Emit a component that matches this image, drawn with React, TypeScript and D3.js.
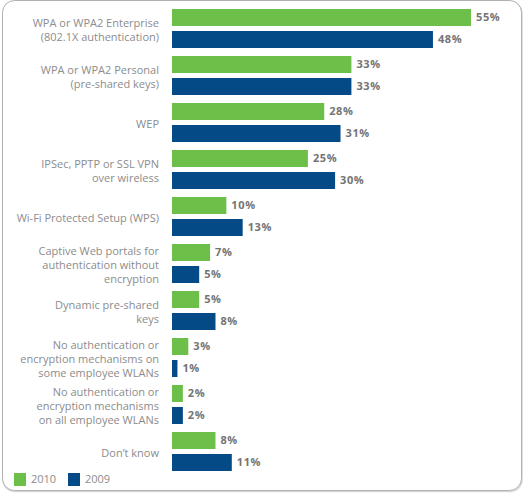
import React, { useEffect, useRef } from "react";
import * as d3 from "d3";

const categories = [
  ["WPA or WPA2 Enterprise", "(802.1X authentication)"],
  ["WPA or WPA2 Personal", "(pre-shared keys)"],
  ["WEP"],
  ["IPSec, PPTP or SSL VPN", "over wireless"],
  ["Wi-Fi Protected Setup (WPS)"],
  ["Captive Web portals for", "authentication without", "encryption"],
  ["Dynamic pre-shared", "keys"],
  ["No authentication or", "encryption mechanisms on", "some employee WLANs"],
  ["No authentication or", "encryption mechanisms", "on all employee WLANs"],
  ["Don\u2019t know"],
];
const values2010 = [55, 33, 28, 25, 10, 7, 5, 3, 2, 8];
const values2009 = [48, 33, 31, 30, 13, 5, 8, 1, 2, 11];
const seriesNames = ["2010", "2009"];
const seriesColors = ["#6cc04a", "#044a87"];

const App = () => {
  const ref = useRef<SVGSVGElement>(null);

  useEffect(() => {
    const svg = d3.select(ref.current);
    svg.selectAll("*").remove();

    const font = "'Open Sans', sans-serif";

    // rounded frame with a faint shadow at the bottom
    svg
      .append("rect")
      .attr("x", 3)
      .attr("y", 1.5)
      .attr("width", 519)
      .attr("height", 490)
      .attr("rx", 12)
      .style("fill", "none")
      .style("stroke", "#d8d8d8")
      .style("stroke-width", 1.5);
    svg
      .append("rect")
      .attr("x", 2.5)
      .attr("y", 0.5)
      .attr("width", 519)
      .attr("height", 490)
      .attr("rx", 12)
      .style("fill", "white")
      .style("stroke", "#b0b0b0")
      .style("stroke-width", 1);

    const x = d3.scaleLinear().domain([0, 55]).range([172, 471]);
    const y = d3
      .scaleBand<number>()
      .domain(d3.range(categories.length))
      .range([9, 9 + 47 * categories.length]);
    const ySub = d3
      .scaleBand<string>()
      .domain(seriesNames)
      .range([0, 39])
      .paddingInner(5 / 22);

    const groups = svg
      .append("g")
      .selectAll("g")
      .data(categories)
      .join("g")
      .attr("transform", (d, i) => `translate(0,${y(i)})`);

    groups.each(function (lines, i) {
      const g = d3.select(this);
      const vals = [values2010[i], values2009[i]];
      seriesNames.forEach((s, k) => {
        g.append("rect")
          .attr("x", x(0))
          .attr("y", ySub(s)!)
          .attr("width", x(vals[k]) - x(0))
          .attr("height", ySub.bandwidth())
          .style("fill", seriesColors[k]);
        g.append("text")
          .attr("x", x(vals[k]) + 5)
          .attr("y", ySub(s)! + ySub.bandwidth() / 2)
          .attr("dy", "0.35em")
          .style("font-family", font)
          .style("font-size", "11px")
          .style("font-weight", "bold")
          .style("letter-spacing", "0.6px")
          .style("fill", "#747474")
          .text(`${vals[k]}%`);
      });
      const center = 21.5;
      lines.forEach((line, j) => {
        g.append("text")
          .attr("x", 159)
          .attr("y", center + (j - (lines.length - 1) / 2) * 14)
          .attr("dy", "0.35em")
          .style("text-anchor", "end")
          .style("font-family", font)
          .style("font-size", "11px")
          .style("fill", "#8c8c8c")
          .text(line);
      });
    });

    // legend
    const legend = svg.append("g").attr("transform", "translate(14,473)");
    seriesNames.forEach((s, k) => {
      const item = legend.append("g").attr("transform", `translate(${k * 54},0)`);
      item
        .append("rect")
        .attr("width", 12)
        .attr("height", 13)
        .style("fill", seriesColors[k]);
      item
        .append("text")
        .attr("x", 17)
        .attr("y", 6.5)
        .attr("dy", "0.35em")
        .style("font-family", font)
        .style("font-size", "11px")
        .style("fill", "#8c8c8c")
        .text(s);
    });
  }, []);

  return (
    <svg
      ref={ref}
      width={524}
      height={501}
      style={{ position: "absolute", left: 0, top: 0 }}
    />
  );
};

export default App;
